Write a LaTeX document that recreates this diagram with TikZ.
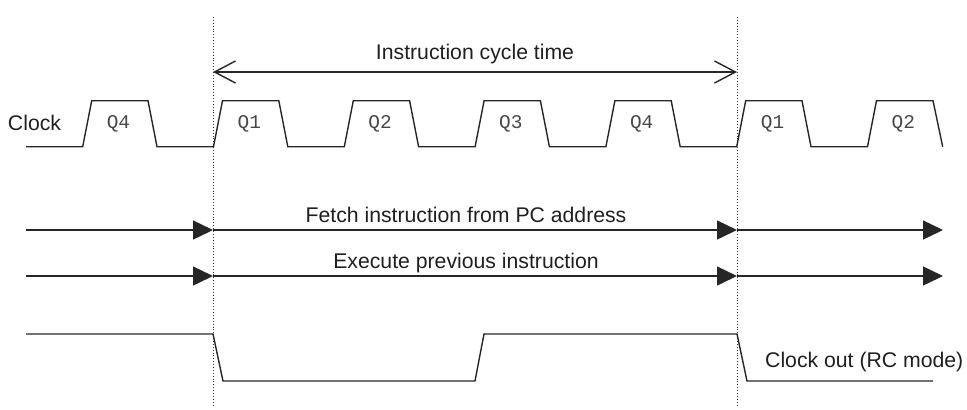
\documentclass[tikz,border=0pt]{standalone}
\usepackage{fontspec}
\setmainfont{Liberation Sans}
\newfontfamily\monof{Liberation Mono}
\usetikzlibrary{arrows.meta}
\begin{document}
\begin{tikzpicture}[x=1bp,y=-1bp,
  sig/.style={line width=1.4bp, line join=miter, black!85},
  guide/.style={line width=0.9bp, dotted, black!80},
  flow/.style={line width=1.4bp, black!85, -{Triangle[length=20bp,width=19bp]}},
  span/.style={line width=1.4bp, black!85, {Straight Barb[length=21bp,width=22bp]}-{Straight Barb[length=21bp,width=22bp]}},
  lbl/.style={font=\fontsize{21.3}{23}\selectfont, inner sep=0pt, text=black!88},
  qlbl/.style={font=\monof\fontsize{19.5}{21}\selectfont, inner sep=0pt, text=black!72}]
\useasboundingbox (0,0) rectangle (967,409);
% guides
\coordinate (g1t) at (213,17); \coordinate (g1b) at (213,407);
\coordinate (g2t) at (737,17); \coordinate (g2b) at (737,407);
\draw[guide] (g1t) -- (g1b);
\draw[guide] (g2t) -- (g2b);
% cycle time
\coordinate (c1) at (213,72); \coordinate (c2) at (737,72);
\draw[span] (c1) -- (c2);
\node[lbl] (cyc) at (475,54) {Instruction cycle time};
% clock
\node[lbl] (clk) at (34.5,123) {Clock};
\draw[sig] (26,146.7)
  \foreach \i in {0,...,5} {
    -- ({82.7+130.8*\i},146.7) -- ({91.7+130.8*\i},100.7) -- ({148+130.8*\i},100.7) -- ({157+130.8*\i},146.7)
  }
  -- (867.5,146.7) -- (876.5,100.7) -- (933,100.7) -- (942.7,146.7);
\foreach \q/\i in {Q4/0,Q1/1,Q2/2,Q3/3,Q4/4,Q1/5,Q2/6} {
  \node[qlbl] (q\i) at ({118.5+130.8*\i},124) {\q};
}
% fetch
\coordinate (f0) at (26,230); \coordinate (f1) at (213,230);
\coordinate (f2) at (737,230); \coordinate (f3) at (943,230);
\draw[flow] (f0) -- (f1);
\draw[flow] (f1) -- (f2);
\draw[flow] (f2) -- (f3);
\node[lbl] (fetch) at (466,215) {Fetch instruction from PC address};
% execute
\coordinate (e0) at (26,276); \coordinate (e1) at (213,276);
\coordinate (e2) at (737,276); \coordinate (e3) at (943,276);
\draw[flow] (e0) -- (e1);
\draw[flow] (e1) -- (e2);
\draw[flow] (e2) -- (e3);
\node[lbl] (exec) at (466,263) {Execute previous instruction};
% clock out
\draw[sig] (26,334) -- (213,334) -- (223,381) -- (475,381) -- (484,334) -- (737,334) -- (747,381) -- (933,381);
\node[lbl, anchor=west] (cko) at (765,362) {Clock out (RC mode)};
\end{tikzpicture}
\end{document}
